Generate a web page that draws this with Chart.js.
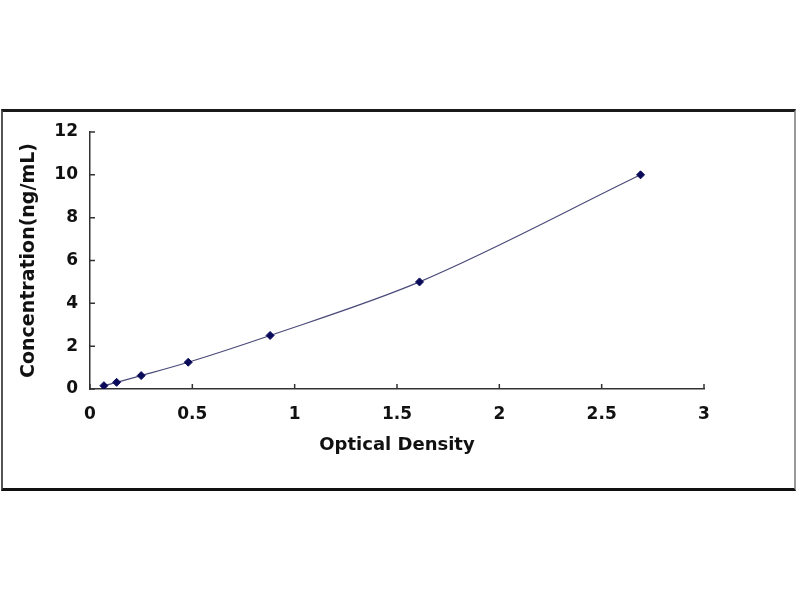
<!DOCTYPE html>
<html>
<head>
<meta charset="utf-8">
<script src="https://cdn.jsdelivr.net/npm/chart.js@4.4.0/dist/chart.umd.min.js"></script>
<style>
  html, body { margin: 0; padding: 0; background: #fff; }
  #wrap { position: relative; width: 800px; height: 600px; }
  #frame {
    position: absolute; left: 1px; top: 109px; width: 791px; height: 376px;
    border-top: 3px solid #1a1a1a; border-bottom: 3px solid #111;
    border-left: 2px solid #555; border-right: 2px solid #999;
  }
  canvas { position: absolute; left: 0; top: 0; }
</style>
</head>
<body>
<div id="wrap">
  <div id="frame"></div>
  <canvas id="grafico" width="800" height="600"></canvas>
</div>
<script>
// =====================================================
// DATOS CURVA ESTANDAR
// =====================================================

const densidadOptica = [0.068, 0.13, 0.25, 0.48, 0.88, 1.61, 2.69];
const concentracion  = [0.156, 0.312, 0.625, 1.25, 2.5, 5, 10];

const ticksX = [0, 0.5, 1, 1.5, 2, 2.5, 3];
const ticksY = [0, 2, 4, 6, 8, 10, 12];

const tituloX = "Optical Density";
const tituloY = "Concentration(ng/mL)";

const puntos = densidadOptica.map((x, i) => ({ x: x, y: concentracion[i] }));

// =====================================================
// MARCAS DE EJE HACIA ADENTRO
// =====================================================

const marcasInternas = {
  id: "marcasInternas",
  afterDatasetsDraw(chart) {
    const ctx = chart.ctx;
    const sx = chart.scales.x;
    const sy = chart.scales.y;
    const area = chart.chartArea;
    ctx.save();
    ctx.strokeStyle = "#333";
    ctx.lineWidth = 1.5;
    ctx.beginPath();
    ticksX.forEach(v => {
      const px = sx.getPixelForValue(v);
      ctx.moveTo(px, area.bottom);
      ctx.lineTo(px, area.bottom - 5);
    });
    ticksY.forEach(v => {
      const py = sy.getPixelForValue(v);
      ctx.moveTo(area.left, py);
      ctx.lineTo(area.left + 5, py);
    });
    ctx.stroke();
    ctx.restore();
  }
};

// =====================================================
// GRAFICO
// =====================================================

const fuente = "'DejaVu Sans', 'Liberation Sans', Arial, sans-serif";

new Chart(document.getElementById("grafico").getContext("2d"), {
  type: "scatter",
  data: {
    datasets: [{
      data: puntos,
      showLine: true,
      borderColor: "#4a4a7a",
      borderWidth: 1.2,
      cubicInterpolationMode: "monotone",
      pointStyle: "rectRot",
      pointRadius: 4,
      pointBackgroundColor: "#0a0a5a",
      pointBorderColor: "#0a0a5a",
      pointBorderWidth: 1
    }]
  },
  options: {
    responsive: false,
    animation: false,
    layout: { padding: { left: 0, top: 132, right: 96, bottom: 131 } },
    plugins: {
      legend: { display: false },
      tooltip: { enabled: false }
    },
    scales: {
      x: {
        type: "linear",
        min: 0,
        max: 3,
        afterBuildTicks: s => { s.ticks = ticksX.map(v => ({ value: v })); },
        afterFit: s => { s.height = 80; },
        grid: { display: true, drawOnChartArea: false, drawTicks: false },
        border: { display: true, color: "#333", width: 1.5 },
        ticks: {
          padding: 15,
          color: "#111",
          callback: v => String(v),
          font: { family: fuente, size: 17, weight: "bold" }
        },
        title: {
          display: true,
          text: tituloX,
          color: "#111",
          padding: { top: 0, bottom: 13 },
          font: { family: fuente, size: 18, weight: "bold" }
        }
      },
      y: {
        type: "linear",
        min: 0,
        max: 12,
        afterBuildTicks: s => { s.ticks = ticksY.map(v => ({ value: v })); },
        afterFit: s => { s.width = 90; },
        grid: { display: true, drawOnChartArea: false, drawTicks: false },
        border: { display: true, color: "#333", width: 1.5 },
        ticks: {
          padding: 12,
          color: "#111",
          callback: v => String(v),
          font: { family: fuente, size: 17, weight: "bold" }
        },
        title: {
          display: true,
          text: tituloY,
          color: "#111",
          padding: { top: 18, bottom: 0 },
          font: { family: fuente, size: 19, weight: "bold" }
        }
      }
    }
  },
  plugins: [marcasInternas]
});
</script>
</body>
</html>
